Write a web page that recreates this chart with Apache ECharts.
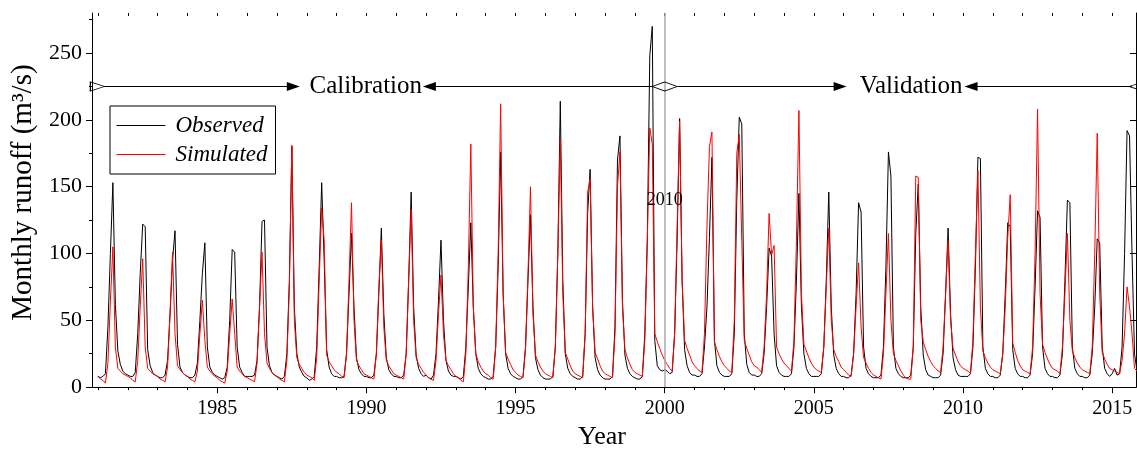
<!DOCTYPE html>
<html>
<head>
<meta charset="utf-8">
<script src="https://cdn.jsdelivr.net/npm/echarts@6/dist/echarts.min.js"></script>
<style>
html,body{margin:0;padding:0;background:#fff;}
#chart{width:1137px;height:455px;}
</style>
</head>
<body>
<div id="chart"></div>
<script>
// ---- data (monthly, Jan 1981 .. Dec 2015) ----
const startYear = 1981;
const observed = [
  8, 7, 8, 10, 45, 100, 153, 62, 27, 17, 12, 10,      // 1981
  9, 8, 8, 11, 40, 85, 122, 120, 28, 16, 11, 9,       // 1982
  8, 7, 7, 9, 20, 55, 95, 117, 32, 15, 11, 9,         // 1983
  8, 7, 7, 9, 18, 50, 85, 108, 30, 15, 11, 9,         // 1984
  8, 7, 6, 7, 15, 50, 103, 101, 30, 15, 11, 8,        // 1985
  8, 8, 8, 9, 20, 60, 124, 125, 30, 16, 11, 9,        // 1986
  8, 7, 6, 8, 25, 80, 180, 60, 25, 15, 11, 8,         // 1987
  7, 5, 6, 8, 30, 90, 153, 95, 28, 15, 10, 8,         // 1988
  8, 7, 7, 8, 25, 70, 115, 60, 22, 13, 10, 8,         // 1989
  8, 7, 7, 9, 25, 70, 119, 55, 22, 13, 10, 8,         // 1990
  8, 7, 7, 9, 25, 80, 146, 60, 24, 14, 10, 8,         // 1991
  9, 7, 6, 9, 25, 65, 110, 50, 20, 12, 9, 8,          // 1992
  8, 7, 6, 8, 30, 75, 123, 60, 25, 14, 10, 8,         // 1993
  7, 6, 6, 8, 30, 90, 176, 70, 25, 14, 10, 8,         // 1994
  7, 6, 6, 8, 30, 80, 129, 60, 22, 13, 9, 7,          // 1995
  6, 6, 6, 8, 30, 100, 214, 80, 25, 14, 10, 8,        // 1996
  7, 6, 6, 8, 40, 130, 163, 60, 22, 13, 9, 7,         // 1997
  6, 6, 6, 8, 45, 170, 188, 65, 24, 14, 10, 8,        // 1998
  7, 6, 6, 8, 40, 110, 248, 270, 35, 16, 13, 12,      // 1999
  13, 12, 10, 11, 40, 110, 201, 80, 28, 16, 11, 9,    // 2000
  9, 8, 8, 10, 30, 60, 112, 172, 35, 16, 11, 9,       // 2001
  8, 8, 8, 10, 40, 140, 202, 197, 40, 17, 11, 9,      // 2002
  9, 8, 8, 10, 25, 60, 104, 98, 40, 16, 11, 9,        // 2003
  8, 8, 8, 10, 30, 80, 145, 60, 25, 14, 10, 8,        // 2004
  8, 8, 8, 10, 30, 80, 146, 60, 24, 14, 10, 8,        // 2005
  8, 7, 7, 9, 25, 70, 138, 131, 30, 14, 10, 8,        // 2006
  7, 7, 7, 9, 30, 90, 176, 158, 30, 14, 10, 8,        // 2007
  7, 7, 7, 9, 30, 115, 152, 60, 24, 13, 9, 8,         // 2008
  7, 7, 7, 9, 25, 70, 119, 55, 22, 13, 9, 8,          // 2009
  8, 8, 8, 10, 30, 90, 172, 171, 30, 14, 10, 8,       // 2010
  8, 7, 7, 9, 25, 70, 123, 120, 28, 14, 10, 8,        // 2011
  8, 7, 7, 9, 25, 75, 132, 127, 30, 14, 10, 8,        // 2012
  8, 7, 7, 9, 25, 80, 140, 138, 30, 14, 10, 8,        // 2013
  8, 7, 7, 9, 25, 60, 111, 108, 30, 14, 10, 8,        // 2014
  10, 14, 9, 10, 30, 100, 192, 188, 100, 25, 12, 9    // 2015
];
const simulated = [
  8, 6, 5, 3, 18, 64, 105, 30, 14, 12, 10, 9,         // 1981
  8, 7, 5, 4, 20, 60, 96, 30, 14, 12, 10, 9,          // 1982
  8, 6, 5, 4, 15, 55, 101, 40, 16, 13, 11, 9,         // 1983
  8, 6, 5, 4, 12, 40, 65, 35, 15, 12, 10, 8,          // 1984
  7, 5, 4, 3, 12, 40, 66, 40, 15, 12, 10, 8,          // 1985
  7, 6, 5, 4, 18, 60, 101, 40, 18, 14, 11, 9,         // 1986
  8, 6, 5, 4, 20, 75, 181, 50, 22, 17, 14, 11,        // 1987
  9, 8, 7, 5, 22, 80, 134, 110, 24, 19, 16, 13,       // 1988
  11, 10, 8, 7, 25, 80, 138, 50, 20, 16, 13, 10,      // 1989
  9, 8, 7, 6, 25, 75, 110, 45, 20, 16, 13, 10,        // 1990
  9, 8, 7, 6, 25, 80, 133, 50, 22, 17, 14, 11,        // 1991
  9, 7, 6, 5, 20, 55, 84, 40, 20, 16, 13, 10,         // 1992
  8, 7, 5, 4, 25, 90, 182, 60, 25, 19, 15, 12,        // 1993
  10, 9, 7, 6, 30, 100, 212, 70, 26, 21, 17, 13,      // 1994
  11, 9, 8, 7, 28, 85, 150, 55, 24, 19, 15, 12,       // 1995
  10, 9, 8, 7, 30, 100, 185, 70, 26, 21, 16, 12,      // 1996
  10, 9, 8, 7, 40, 146, 156, 60, 26, 21, 16, 12,      // 1997
  10, 9, 8, 7, 40, 150, 176, 60, 28, 22, 17, 13,      // 1998
  11, 10, 9, 8, 35, 110, 194, 182, 40, 34, 29, 24,    // 1999
  20, 17, 14, 12, 40, 120, 199, 80, 35, 29, 24, 19,   // 2000
  16, 14, 12, 11, 40, 120, 180, 191, 34, 28, 23, 19,  // 2001
  16, 14, 12, 11, 50, 175, 189, 110, 35, 29, 24, 19,  // 2002
  16, 15, 13, 11, 30, 70, 130, 99, 106, 30, 25, 21,   // 2003
  18, 16, 14, 12, 35, 110, 207, 70, 32, 27, 22, 18,   // 2004
  15, 13, 12, 11, 30, 75, 119, 50, 28, 23, 19, 15,    // 2005
  13, 11, 9, 8, 25, 60, 93, 45, 22, 18, 14, 11,       // 2006
  9, 8, 7, 6, 25, 70, 115, 50, 25, 20, 16, 12,        // 2007
  9, 7, 6, 6, 30, 158, 157, 50, 34, 28, 23, 19,       // 2008
  16, 14, 12, 11, 30, 70, 110, 50, 29, 24, 19, 16,    // 2009
  14, 13, 12, 10, 35, 100, 162, 60, 27, 22, 18, 15,   // 2010
  13, 12, 11, 10, 25, 60, 112, 144, 33, 26, 20, 16,   // 2011
  13, 12, 11, 10, 30, 100, 208, 70, 32, 26, 21, 17,   // 2012
  14, 13, 12, 10, 30, 70, 115, 50, 27, 22, 18, 15,    // 2013
  13, 12, 11, 10, 30, 100, 190, 70, 26, 21, 17, 14,   // 2014
  13, 12, 11, 10, 20, 40, 75, 60, 40, 14, 12, 10      // 2015
];
const seriesNames = ['Observed', 'Simulated'];
const xMajorTicks = [1985, 1990, 1995, 2000, 2005, 2010, 2015];
const xMinorTicks = [1981, 1982, 1983, 1984, 1985, 1986, 1987, 1988, 1989, 1990, 1991, 1992,
  1993, 1994, 1995, 1996, 1997, 1998, 1999, 2000, 2001, 2002, 2003, 2004, 2005, 2006, 2007,
  2008, 2009, 2010, 2011, 2012, 2013, 2014, 2015];
const yMajorTicks = [0, 50, 100, 150, 200, 250];
const yMinorTicks = [25, 75, 125, 175, 225, 275];
const periodLabels = ['Calibration', 'Validation'];
const splitYear = 2000;
const splitNote = '2010';

// ---- build series data ----
const toPairs = arr => arr.map((v, i) => [startYear + i / 12, v]);
const obsData = toPairs(observed);
const simData = toPairs(simulated);

const FONT = "'Liberation Serif', 'Times New Roman', serif";
const X_MIN = 1980.8, X_MAX = 2015.8, Y_MIN = 0, Y_MAX = 280;
const ANN_Y = 225;

const xBase = {type: 'value', min: X_MIN, max: X_MAX, gridIndex: 0, splitLine: {show: false}};
const yBase = {type: 'value', min: Y_MIN, max: Y_MAX, gridIndex: 0, splitLine: {show: false}};
const lineBlack = {show: true, lineStyle: {color: '#000', width: 1}};
const plain = v => String(Math.round(v));

const chart = echarts.init(document.getElementById('chart'), null, {renderer: 'canvas'});
const option = {
  animation: false,
  backgroundColor: '#fff',
  grid: {left: 92, right: 1, top: 13, bottom: 58, containLabel: false},
  legend: {
    data: seriesNames,
    orient: 'vertical',
    left: 110, top: 106,
    padding: [8, 8, 8, 6],
    itemGap: 6, itemWidth: 49, itemHeight: 14,
    borderColor: '#000', borderWidth: 1, borderRadius: 0,
    itemStyle: {opacity: 0},
    lineStyle: {width: 1},
    textStyle: {fontFamily: FONT, fontStyle: 'italic', fontSize: 23, color: '#000', padding: [0, 0, 0, 5]}
  },
  xAxis: [
    Object.assign({}, xBase, {
      position: 'bottom', axisLine: lineBlack,
      axisTick: {show: true, length: 6, lineStyle: {color: '#000'}, customValues: xMajorTicks},
      axisLabel: {show: true, customValues: xMajorTicks, formatter: plain, fontFamily: FONT, fontSize: 20, color: '#000', margin: 12},
      name: 'Year', nameLocation: 'middle', nameGap: 29,
      nameTextStyle: {fontFamily: FONT, fontSize: 26, color: '#000', padding: [0, 24, 0, 0]}
    }),
    Object.assign({}, xBase, {
      position: 'bottom', axisLine: {show: false},
      axisTick: {show: true, length: 3, lineStyle: {color: '#000'}, customValues: xMinorTicks},
      axisLabel: {show: false}
    }),
    Object.assign({}, xBase, {
      position: 'top', axisLine: lineBlack,
      axisTick: {show: true, inside: true, length: 6, lineStyle: {color: '#000'}, customValues: xMajorTicks},
      axisLabel: {show: false}
    }),
    Object.assign({}, xBase, {
      position: 'top', axisLine: {show: false},
      axisTick: {show: true, inside: true, length: 3, lineStyle: {color: '#000'}, customValues: xMinorTicks},
      axisLabel: {show: false}
    })
  ],
  yAxis: [
    Object.assign({}, yBase, {
      position: 'left', axisLine: lineBlack,
      axisTick: {show: true, length: 6, lineStyle: {color: '#000'}, customValues: yMajorTicks},
      axisLabel: {show: true, customValues: yMajorTicks, formatter: plain, fontFamily: FONT, fontSize: 22, color: '#000', margin: 10},
      name: 'Monthly runoff (m³/s)', nameLocation: 'middle', nameGap: 53,
      nameTextStyle: {fontFamily: FONT, fontSize: 29, color: '#000', padding: [0, 0, 0, 15]}
    }),
    Object.assign({}, yBase, {
      position: 'left', axisLine: {show: false},
      axisTick: {show: true, length: 3, lineStyle: {color: '#000'}, customValues: yMinorTicks},
      axisLabel: {show: false}
    }),
    Object.assign({}, yBase, {
      position: 'right', axisLine: lineBlack,
      axisTick: {show: true, inside: true, length: 6, lineStyle: {color: '#000'}, customValues: yMajorTicks},
      axisLabel: {show: false}
    })
  ],
  series: [
    {
      name: seriesNames[0], type: 'line', xAxisIndex: 0, yAxisIndex: 0,
      data: obsData, symbol: 'none', showSymbol: false,
      lineStyle: {color: '#000', width: 1}, itemStyle: {color: '#000'},
      z: 3,
      markLine: {
        silent: true, symbol: 'none', animation: false,
        lineStyle: {color: '#a8a8a8', width: 1.5, type: 'solid'},
        label: {show: false},
        data: [{xAxis: splitYear}]
      },
      markPoint: {
        silent: true, animation: false,
        data: [{
          coord: [splitYear, 139.5], symbol: 'circle', symbolSize: 0,
          label: {show: true, position: 'inside', formatter: splitNote, fontFamily: FONT, fontSize: 18, color: '#000'}
        }]
      }
    },
    {
      name: seriesNames[1], type: 'line', xAxisIndex: 0, yAxisIndex: 0,
      data: simData, symbol: 'none', showSymbol: false,
      lineStyle: {color: '#ff0000', width: 1}, itemStyle: {color: '#ff0000'},
      z: 4
    },
    {
      name: 'annotation', type: 'line', xAxisIndex: 0, yAxisIndex: 0, data: [],
      z: 5, silent: true,
      markLine: {
        silent: true, animation: false,
        symbol: ['none', 'triangle'],
        lineStyle: {color: '#000', width: 1, type: 'solid'},
        label: {show: false},
        data: [
          [{coord: [1981.19, ANN_Y], symbol: 'none'}, {coord: [1987.55, ANN_Y], symbol: 'triangle', symbolSize: [9, 13]}],
          [{coord: [1999.59, ANN_Y], symbol: 'none'}, {coord: [1992.11, ANN_Y], symbol: 'triangle', symbolSize: [9, 13]}],
          [{coord: [2000.44, ANN_Y], symbol: 'none'}, {coord: [2005.88, ANN_Y], symbol: 'triangle', symbolSize: [9, 13]}],
          [{coord: [2015.66, ANN_Y], symbol: 'none'}, {coord: [2010.27, ANN_Y], symbol: 'triangle', symbolSize: [9, 13]}]
        ]
      },
      markPoint: {
        silent: true, animation: false,
        data: [
          {coord: [1989.98, ANN_Y], symbol: 'circle', symbolSize: 0,
            label: {show: true, position: 'inside', formatter: periodLabels[0], fontFamily: FONT, fontSize: 25, color: '#000'}},
          {coord: [2008.26, ANN_Y], symbol: 'circle', symbolSize: 0,
            label: {show: true, position: 'inside', formatter: periodLabels[1], fontFamily: FONT, fontSize: 25, color: '#000'}},
          {coord: [splitYear, ANN_Y], symbol: 'diamond', symbolSize: [25, 9],
            itemStyle: {color: 'rgba(0,0,0,0)', borderColor: '#000', borderWidth: 1}, label: {show: false}},
          {coord: [1980.98, ANN_Y], symbol: 'triangle', symbolSize: [9, 14], symbolRotate: -90,
            itemStyle: {color: 'rgba(0,0,0,0)', borderColor: '#000', borderWidth: 1}, label: {show: false}},
          {coord: [2015.8, ANN_Y], symbol: 'triangle', symbolSize: [9, 14], symbolRotate: 90,
            itemStyle: {color: 'rgba(0,0,0,0)', borderColor: '#000', borderWidth: 1}, label: {show: false}}
        ]
      }
    }
  ]
};
chart.setOption(option);
</script>
</body>
</html>
